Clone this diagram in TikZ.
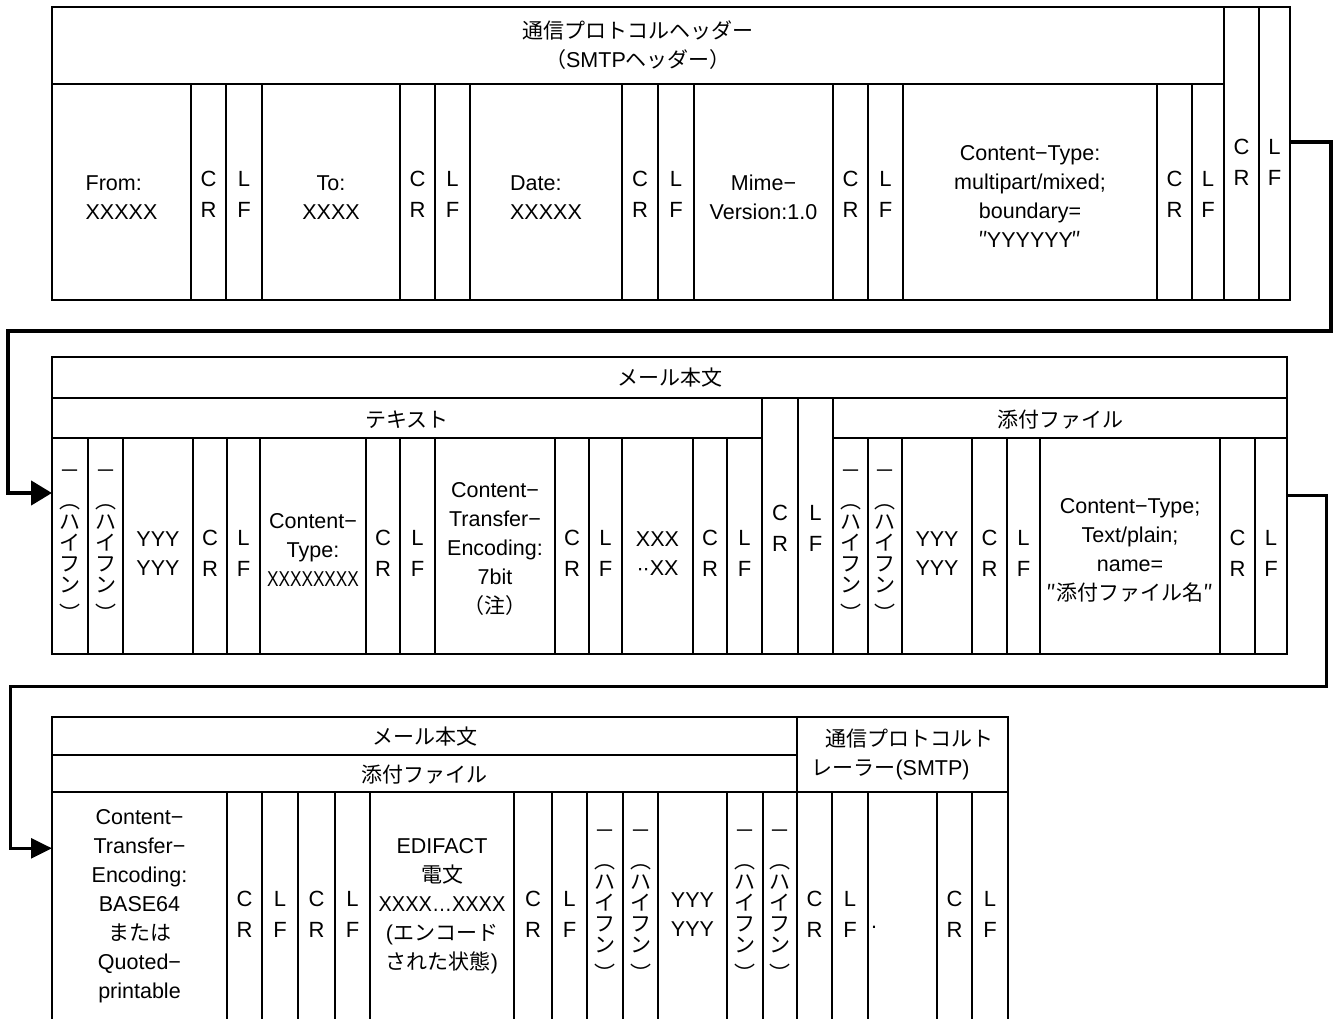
\documentclass[tikz,border=0pt]{standalone}
\usepackage{graphicx}
\usepackage{fontspec}
\setmainfont{Liberation Sans}
\newfontfamily\jafont{Noto Sans CJK JP}
\usetikzlibrary{arrows.meta}
\newcommand\ja[1]{{\jafont\fontsize{21}{29}\selectfont #1}}
\newcommand\txtfont{\fontsize{21.5}{29}\selectfont}
\newcommand\crfont{\fontsize{22}{31}\selectfont}
\newcommand\hyfont{\jafont\fontsize{21}{21}\selectfont}
\tikzset{
  cell/.style={draw=black, line width=1.5pt, inner sep=0pt, outer sep=0pt,
    anchor=north west},
  celltext/.style={inner sep=0pt, outer sep=0pt, align=center, font=\txtfont},
  conna/.style={line width=4.5pt, -{Triangle[length=21pt,width=24pt]}},
  connb/.style={line width=3pt, -{Triangle[length=21pt,width=20pt]}},
}
% cell: [text options]{name}{x1}{y1}{x2}{y2}{text}
\newcommand\mkcell[7][]{\node[cell,minimum width={#5-#3},minimum height={#6-#4}] (#2) at (#3,#4) {};
  \node[celltext,#1] (#2t) at (#2.center) {#7};}
\newcommand\mkcr[6][0]{\mkcell[font=\crfont,yshift=-#1pt]{#2}{#3}{#4}{#5}{#6}{C\\R}}
\newcommand\mklf[6][0]{\mkcell[font=\crfont,yshift=-#1pt]{#2}{#3}{#4}{#5}{#6}{L\\F}}
\newcommand\mkhy[6][0]{\mkcell[font=\hyfont,yshift=-#1pt]{#2}{#3}{#4}{#5}{#6}{－\\[9pt]︵\\ハ\\イ\\フ\\ン\\[8pt]︶}}
\begin{document}
\begin{tikzpicture}[x=1pt,y=-1pt]
\useasboundingbox (0,0) rectangle (1336,1019);
% ---------- row 1 : SMTP header
\mkcell{r1hdr}{52}{7}{1224}{84}{\ja{通信プロトコルヘッダー}\\\ja{（}SMTP\ja{ヘッダー）}}
\mkcell[align=left,yshift=-5.5pt]{r1from}{52}{84}{191}{300}{From:\\XXXXX}
\mkcr[2.5]{r1cr1}{191}{84}{226}{300}
\mklf[2.5]{r1lf1}{226}{84}{262}{300}
\mkcell[yshift=-5.5pt]{r1to}{262}{84}{400}{300}{To:\\XXXX}
\mkcr[2.5]{r1cr2}{400}{84}{435}{300}
\mklf[2.5]{r1lf2}{435}{84}{470}{300}
\mkcell[align=left,yshift=-5.5pt]{r1date}{470}{84}{622}{300}{Date:\\XXXXX}
\mkcr[2.5]{r1cr3}{622}{84}{658}{300}
\mklf[2.5]{r1lf3}{658}{84}{694}{300}
\mkcell[yshift=-5.5pt]{r1mime}{694}{84}{833}{300}{Mime−\\Version:1.0}
\mkcr[2.5]{r1cr4}{833}{84}{868}{300}
\mklf[2.5]{r1lf4}{868}{84}{903}{300}
\mkcell[yshift=-4pt]{r1ct}{903}{84}{1157}{300}{Content−Type:\\multipart/mixed;\\boundary=\\\ja{″}\kern-1.5pt YYYYYY\kern-1.5pt\ja{″}}
\mkcr[2.5]{r1cr5}{1157}{84}{1192}{300}
\mklf[2.5]{r1lf5}{1192}{84}{1224}{300}
\mkcr[9]{r1cr6}{1224}{7}{1259}{300}
\mklf[9]{r1lf6}{1259}{7}{1290}{300}
% ---------- row 2 : mail body
\mkcell{r2hdr}{52}{357}{1287}{398}{\ja{メール本文}}
\mkcell[yshift=-2pt]{r2txt}{52}{398}{762}{438}{\ja{テキスト}}
\mkcell[yshift=-2pt]{r2att}{833}{398}{1287}{438}{\ja{添付ファイル}}
\mkhy{r2h1}{52}{438}{88}{654}
\mkhy{r2h2}{88}{438}{123}{654}
\mkcell[yshift=-8pt]{r2y1}{123}{438}{193}{654}{YYY\\YYY}
\mkcr[7.5]{r2cr1}{193}{438}{227}{654}
\mklf[7.5]{r2lf1}{227}{438}{260}{654}
\mkcell[yshift=-3.5pt]{r2ct1}{260}{438}{366}{654}{Content−\\Type:\\\scalebox{0.8}[1]{XXXXXXXX}}
\mkcr[7.5]{r2cr2}{366}{438}{400}{654}
\mklf[7.5]{r2lf2}{400}{438}{435}{654}
\mkcell[yshift=-2.5pt]{r2cte}{435}{438}{555}{654}{Content−\\Transfer−\\Encoding:\\7bit\\\ja{（注）}}
\mkcr[7.5]{r2cr3}{555}{438}{589}{654}
\mklf[7.5]{r2lf3}{589}{438}{622}{654}
\mkcell[yshift=-8pt]{r2x}{622}{438}{693}{654}{XXX\\·\kern-1pt·XX}
\mkcr[7.5]{r2cr4}{693}{438}{727}{654}
\mklf[7.5]{r2lf4}{727}{438}{762}{654}
\mkcr[2]{r2cr5}{762}{398}{798}{654}
\mklf[2]{r2lf5}{798}{398}{833}{654}
\mkhy{r2h3}{833}{438}{868}{654}
\mkhy{r2h4}{868}{438}{902}{654}
\mkcell[yshift=-8pt]{r2y2}{902}{438}{972}{654}{YYY\\YYY}
\mkcr[7.5]{r2cr6}{972}{438}{1007}{654}
\mklf[7.5]{r2lf6}{1007}{438}{1040}{654}
\mkcell[yshift=-4.5pt]{r2ct2}{1040}{438}{1220}{654}{Content−Type;\\Text/plain;\\name=\\\ja{″添付ファイル名″}}
\mkcr[7.5]{r2cr7}{1220}{438}{1255}{654}
\mklf[7.5]{r2lf7}{1255}{438}{1287}{654}
% ---------- row 3 : attachment + trailer
\mkcell[yshift=-1pt]{r3hdr}{52}{717}{797}{755}{\ja{メール本文}}
\mkcell[yshift=-1pt]{r3att}{52}{755}{797}{792}{\ja{添付ファイル}}
\mkcell[align=left]{r3trl}{797}{717}{1008}{792}{\hspace*{14pt}\ja{通信プロトコルト}\\\ja{レーラー}(SMTP)}
\mkcell{r3cte}{52}{792}{227}{1019.6}{Content−\\Transfer−\\Encoding:\\BASE64\\\ja{または}\\Quoted−\\printable}
\mkcr[8.5]{r3cr1}{227}{792}{262}{1019.6}
\mklf[8.5]{r3lf1}{262}{792}{298}{1019.6}
\mkcr[8.5]{r3cr2}{298}{792}{335}{1019.6}
\mklf[8.5]{r3lf2}{335}{792}{370}{1019.6}
\mkcell{r3edi}{370}{792}{514}{1019.6}{EDIFACT\\\ja{電文}\\\scalebox{0.93}[1]{XXXX…XXXX}\\(\ja{エンコード}\\\ja{された状態})}
\mkcr[8.5]{r3cr3}{514}{792}{552}{1019.6}
\mklf[8.5]{r3lf3}{552}{792}{587}{1019.6}
\mkhy{r3h1}{587}{792}{623}{1019.6}
\mkhy{r3h2}{623}{792}{658}{1019.6}
\mkcell[yshift=-8.5pt]{r3y}{658}{792}{727}{1019.6}{YYY\\YYY}
\mkhy{r3h3}{727}{792}{763}{1019.6}
\mkhy{r3h4}{763}{792}{797}{1019.6}
\mkcr[8.5]{r3cr4}{797}{792}{832}{1019.6}
\mklf[8.5]{r3lf4}{832}{792}{868}{1019.6}
\mkcell[text width=63pt,align=left,yshift=-8.5pt]{r3dot}{868}{792}{937}{1019.6}{\mbox{}\\.}
\mkcr[8.5]{r3cr5}{937}{792}{972}{1019.6}
\mklf[8.5]{r3lf5}{972}{792}{1008}{1019.6}
% ---------- connectors
\coordinate (k1) at (8,331);
\coordinate (k2) at (10,686);
\draw[conna] ([yshift=11.5pt]r1lf6.east) -- ++(41,0) |- (k1) |- ([yshift=53pt]r2h1.west);
\draw[connb] ([yshift=51pt]r2lf7.east) -- ++(39,0) |- (k2) |- ([yshift=57.5pt]r3cte.west);
\end{tikzpicture}
\end{document}
